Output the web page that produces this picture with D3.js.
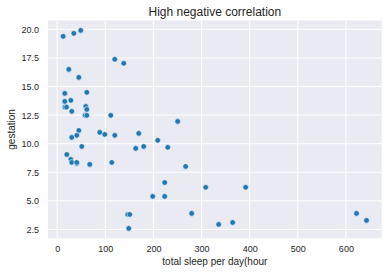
<!DOCTYPE html>
<html>
<head>
<meta charset="utf-8">
<script src="https://cdn.jsdelivr.net/npm/d3@7"></script>
<style>
  body { margin: 0; background: #fff; }
  text { font-family: "Liberation Sans", Arial, sans-serif; fill: #262626; }
</style>
</head>
<body>
<div class="plot"></div>
<script>
// total sleep per day (x) vs gestation (y)
var sleep = [12.5, 34.6, 49.1, 119.7, 138.4, 24.2, 45, 15.9, 61.6, 15.9, 28.4,
    16, 19.4, 59.5, 61.6, 30.4, 58, 61.6, 111.4, 250.5, 45, 40.8, 30.4, 88.6,
    99, 119.7, 169.6, 209, 51.2, 163.3, 179.9, 229.8, 20.1, 28.4, 30.4, 40.8,
    40.8, 67.8, 113.5, 267, 223.5, 308.7, 391.7, 198.6, 223.5, 146.7, 150.9,
    279.6, 622.1, 148.8, 335.6, 364.7, 642.9];
var gestation = [19.39, 19.65, 19.91, 17.38, 17.03, 16.5, 15.8, 14.4, 14.49, 13.7, 13.79,
    13.2, 13.2, 13.26, 13.0, 12.83, 12.48, 12.48, 12.48, 11.95, 11.16, 10.73, 10.55, 10.99,
    10.81, 10.73, 10.9, 10.29, 9.76, 9.59, 9.76, 9.68, 9.06, 8.63, 8.36, 8.27,
    8.36, 8.19, 8.36, 8.01, 6.6, 6.18, 6.18, 5.39, 5.39, 3.81, 3.81,
    3.9, 3.9, 2.59, 2.94, 3.11, 3.29];
var xTicks = [0, 100, 200, 300, 400, 500, 600];
var yTicks = [2.5, 5.0, 7.5, 10.0, 12.5, 15.0, 17.5, 20.0];

var width = 388,
    height = 274,
    margin = {top: 20.5, right: 6.3, bottom: 35.7, left: 48};

var svg = d3.select(".plot").append("svg")
    .attr("width", width)
    .attr("height", height);

var iw = width - margin.left - margin.right,
    ih = height - margin.top - margin.bottom;

// matplotlib style 5% padding around the data
var xExt = d3.extent(sleep), yExt = d3.extent(gestation);
var xPad = (xExt[1] - xExt[0]) * 0.05, yPad = (yExt[1] - yExt[0]) * 0.05;

var x = d3.scaleLinear()
    .domain([xExt[0] - xPad, xExt[1] + xPad])
    .range([0, iw]);
var y = d3.scaleLinear()
    .domain([yExt[0] - yPad, yExt[1] + yPad])
    .range([ih, 0]);

var g = svg.append("g")
    .attr("transform", "translate(" + margin.left + "," + margin.top + ")");

g.append("rect")
    .attr("width", iw)
    .attr("height", ih)
    .attr("fill", "#eaeaf2");

// grid
g.selectAll(".xgrid")
    .data(xTicks)
  .enter().append("line")
    .attr("x1", function(d) { return x(d); })
    .attr("x2", function(d) { return x(d); })
    .attr("y1", 0).attr("y2", ih)
    .attr("stroke", "#fff").attr("stroke-width", 1);

g.selectAll(".ygrid")
    .data(yTicks)
  .enter().append("line")
    .attr("y1", function(d) { return y(d); })
    .attr("y2", function(d) { return y(d); })
    .attr("x1", 0).attr("x2", iw)
    .attr("stroke", "#fff").attr("stroke-width", 1);

// axes without domain lines or ticks
var xAxis = g.append("g")
    .attr("transform", "translate(0," + ih + ")")
    .call(d3.axisBottom(x).tickValues(xTicks).tickSize(0).tickPadding(7).tickFormat(d3.format("d")));
var yAxis = g.append("g")
    .call(d3.axisLeft(y).tickValues(yTicks).tickSize(0).tickPadding(9).tickFormat(d3.format(".1f")));

[xAxis, yAxis].forEach(function(a) {
  a.select(".domain").remove();
  a.selectAll("text")
    .style("font-family", '"Liberation Sans", Arial, sans-serif')
    .style("font-size", "9px")
    .attr("fill", "#262626");
});

// points
g.selectAll(".dot")
    .data(sleep.map(function(v, i) { return [v, gestation[i]]; }))
  .enter().append("circle")
    .attr("cx", function(d) { return x(d[0]); })
    .attr("cy", function(d) { return y(d[1]); })
    .attr("r", 2.8)
    .attr("fill", "#1f77b4")
    .attr("stroke", "#fff")
    .attr("stroke-width", 0.6);

// labels
svg.append("text")
    .attr("x", margin.left + iw / 2)
    .attr("y", 15.5)
    .attr("text-anchor", "middle")
    .style("font-size", "12px")
    .text("High negative correlation");

svg.append("text")
    .attr("x", margin.left + iw / 2)
    .attr("y", 264.5)
    .attr("text-anchor", "middle")
    .style("font-size", "10px")
    .text("total sleep per day(hour");

svg.append("text")
    .attr("transform", "translate(15," + (margin.top + ih / 2) + ") rotate(-90)")
    .attr("text-anchor", "middle")
    .style("font-size", "10px")
    .text("gestation");
</script>
</body>
</html>
